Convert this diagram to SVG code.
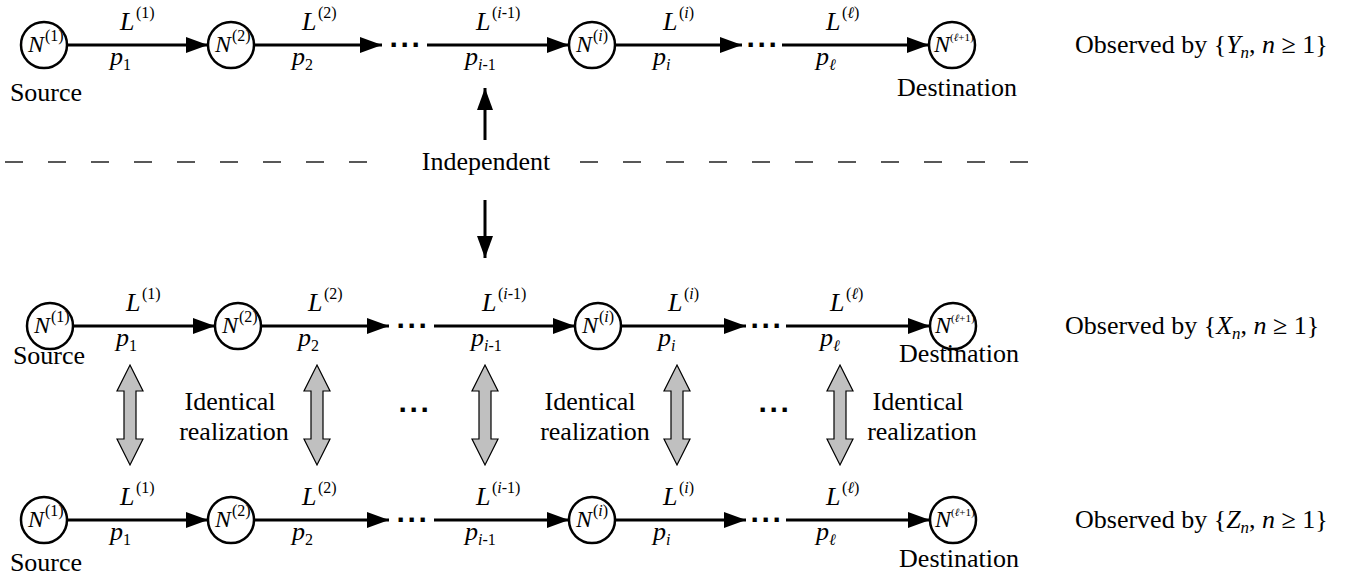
<svg xmlns="http://www.w3.org/2000/svg" width="1353" height="575" viewBox="0 0 1353 575">
<style>
.t{font-family:"Liberation Serif","Times New Roman",serif;font-size:26px;fill:#000}
.mi{font-family:"Liberation Serif","Times New Roman",serif;font-size:26px;font-style:italic;fill:#000}
.ni{font-family:"Liberation Serif","Times New Roman",serif;font-size:24px;font-style:italic;fill:#000}
.sm{font-family:"Liberation Serif","Times New Roman",serif;font-size:16px;fill:#000}
.tiny{font-family:"Liberation Serif","Times New Roman",serif;font-size:11px;fill:#000}
.it{font-style:italic}
.node{fill:#fff;stroke:#000;stroke-width:2.5}
.edge{stroke:#000;stroke-width:3;fill:none}
.dots{font-family:"Liberation Sans",Arial,sans-serif;font-size:30px;font-weight:bold;fill:#000;letter-spacing:1px}
.dash{stroke:#222;stroke-width:1.5;stroke-dasharray:18 25;fill:none}
.dbl{fill:#c0c0c0;stroke:#000;stroke-width:1.2}
</style>
<defs>
<marker id="ah" markerUnits="userSpaceOnUse" markerWidth="24" markerHeight="18" refX="22" refY="8" orient="auto">
<path d="M0,0 L22,8 L0,16 z" fill="#000"/>
</marker>
</defs>

<!-- Row 1 nodes -->
<g id="r1n1"><circle class="node" cx="44" cy="45" r="23"/><text class="ni" x="28" y="52">N</text><text class="sm" x="45" y="41">(1)</text><text class="t" x="46" y="101" text-anchor="middle">Source</text></g>
<g id="r1n2"><circle class="node" cx="231" cy="45" r="23"/><text class="ni" x="215" y="52">N</text><text class="sm" x="232" y="41">(2)</text></g>
<g id="r1ni"><circle class="node" cx="592" cy="45" r="23"/><text class="ni" x="576" y="52">N</text><text class="sm" x="593" y="41">(<tspan class="it">i</tspan>)</text></g>
<g id="r1nl"><circle class="node" cx="952" cy="45" r="23"/><text class="ni" x="934" y="52">N</text><text class="tiny" x="950" y="41">(<tspan class="it">ℓ</tspan>+1)</text><text class="t" x="957" y="96" text-anchor="middle">Destination</text></g>

<!-- Row 2 nodes -->
<g id="r2n1"><circle class="node" cx="50" cy="326" r="23"/><text class="ni" x="34" y="333">N</text><text class="sm" x="51" y="322">(1)</text><text class="t" x="49" y="364" text-anchor="middle">Source</text></g>
<g id="r2n2"><circle class="node" cx="238" cy="326" r="23"/><text class="ni" x="222" y="333">N</text><text class="sm" x="239" y="322">(2)</text></g>
<g id="r2ni"><circle class="node" cx="598" cy="326" r="23"/><text class="ni" x="582" y="333">N</text><text class="sm" x="599" y="322">(<tspan class="it">i</tspan>)</text></g>
<g id="r2nl"><circle class="node" cx="953" cy="326" r="23"/><text class="ni" x="935" y="333">N</text><text class="tiny" x="951" y="322">(<tspan class="it">ℓ</tspan>+1)</text><text class="t" x="959" y="362" text-anchor="middle">Destination</text></g>

<!-- Row 3 nodes -->
<g id="r3n1"><circle class="node" cx="44" cy="520" r="23"/><text class="ni" x="28" y="527">N</text><text class="sm" x="45" y="516">(1)</text><text class="t" x="46" y="571" text-anchor="middle">Source</text></g>
<g id="r3n2"><circle class="node" cx="231" cy="520" r="23"/><text class="ni" x="215" y="527">N</text><text class="sm" x="232" y="516">(2)</text></g>
<g id="r3ni"><circle class="node" cx="592" cy="520" r="23"/><text class="ni" x="576" y="527">N</text><text class="sm" x="593" y="516">(<tspan class="it">i</tspan>)</text></g>
<g id="r3nl"><circle class="node" cx="953" cy="520" r="23"/><text class="ni" x="935" y="527">N</text><text class="tiny" x="951" y="516">(<tspan class="it">ℓ</tspan>+1)</text><text class="t" x="959" y="567" text-anchor="middle">Destination</text></g>

<!-- Observed labels -->
<g id="obsY"><text class="t" x="1075" y="53">Observed by  {<tspan class="it">Y</tspan><tspan font-size="17" class="it" dy="5">n</tspan><tspan dy="-5">, </tspan><tspan class="it">n</tspan> ≥ 1}</text></g>
<g id="obsX"><text class="t" x="1065" y="334">Observed by  {<tspan class="it">X</tspan><tspan font-size="17" class="it" dy="5">n</tspan><tspan dy="-5">, </tspan><tspan class="it">n</tspan> ≥ 1}</text></g>
<g id="obsZ"><text class="t" x="1075" y="528">Observed by  {<tspan class="it">Z</tspan><tspan font-size="17" class="it" dy="5">n</tspan><tspan dy="-5">, </tspan><tspan class="it">n</tspan> ≥ 1}</text></g>

<!-- Independent -->
<g id="independent"><text class="t" x="486" y="170" text-anchor="middle">Independent</text></g>

<!-- Identical realization labels -->
<g id="ident1"><text class="t" x="230" y="410" text-anchor="middle">Identical</text><text class="t" x="234" y="440" text-anchor="middle">realization</text></g>
<g id="ident2"><text class="t" x="590" y="410" text-anchor="middle">Identical</text><text class="t" x="595" y="440" text-anchor="middle">realization</text></g>
<g id="ident3"><text class="t" x="918" y="410" text-anchor="middle">Identical</text><text class="t" x="922" y="440" text-anchor="middle">realization</text></g>
<g id="ell1"><text class="dots" x="415" y="420" text-anchor="middle">···</text></g>
<g id="ell2"><text class="dots" x="775" y="420" text-anchor="middle">···</text></g>

<g id="connectors">
<!-- Row 1 -->
<line class="edge" x1="67" y1="45" x2="208" y2="45" marker-end="url(#ah)"/>
<line class="edge" x1="254" y1="45" x2="382" y2="45" marker-end="url(#ah)"/>
<text class="dots" x="406" y="55" text-anchor="middle">···</text>
<line class="edge" x1="427" y1="45" x2="569" y2="45" marker-end="url(#ah)"/>
<line class="edge" x1="615" y1="45" x2="742" y2="45" marker-end="url(#ah)"/>
<text class="dots" x="763" y="55" text-anchor="middle">···</text>
<line class="edge" x1="782" y1="45" x2="929" y2="45" marker-end="url(#ah)"/>
<!-- Row 2 -->
<line class="edge" x1="73" y1="326" x2="215" y2="326" marker-end="url(#ah)"/>
<line class="edge" x1="261" y1="326" x2="389" y2="326" marker-end="url(#ah)"/>
<text class="dots" x="413" y="336" text-anchor="middle">···</text>
<line class="edge" x1="434" y1="326" x2="575" y2="326" marker-end="url(#ah)"/>
<line class="edge" x1="621" y1="326" x2="746" y2="326" marker-end="url(#ah)"/>
<text class="dots" x="767" y="336" text-anchor="middle">···</text>
<line class="edge" x1="786" y1="326" x2="930" y2="326" marker-end="url(#ah)"/>
<!-- Row 3 -->
<line class="edge" x1="67" y1="520" x2="208" y2="520" marker-end="url(#ah)"/>
<line class="edge" x1="254" y1="520" x2="389" y2="520" marker-end="url(#ah)"/>
<text class="dots" x="413" y="530" text-anchor="middle">···</text>
<line class="edge" x1="434" y1="520" x2="569" y2="520" marker-end="url(#ah)"/>
<line class="edge" x1="615" y1="520" x2="746" y2="520" marker-end="url(#ah)"/>
<text class="dots" x="767" y="530" text-anchor="middle">···</text>
<line class="edge" x1="786" y1="520" x2="930" y2="520" marker-end="url(#ah)"/>

<!-- Edge labels row 1 -->
<text class="mi" x="120" y="30">L</text><text class="sm" x="136" y="18">(1)</text>
<text class="mi" x="110" y="65">p</text><text class="sm" x="123" y="70">1</text>
<text class="mi" x="302" y="30">L</text><text class="sm" x="318" y="18">(2)</text>
<text class="mi" x="292" y="65">p</text><text class="sm" x="305" y="70">2</text>
<text class="mi" x="476" y="30">L</text><text class="sm" x="492" y="18">(<tspan class="it">i</tspan>-1)</text>
<text class="mi" x="465" y="65">p</text><text class="sm" x="478" y="70"><tspan class="it">i</tspan>-1</text>
<text class="mi" x="663" y="30">L</text><text class="sm" x="679" y="18">(<tspan class="it">i</tspan>)</text>
<text class="mi" x="653" y="65">p</text><text class="sm" x="666" y="70" font-style="italic">i</text>
<text class="mi" x="826" y="30">L</text><text class="sm" x="842" y="18">(<tspan class="it">ℓ</tspan>)</text>
<text class="mi" x="816" y="65">p</text><text class="sm" x="829" y="70" font-style="italic">ℓ</text>
<!-- Edge labels row 2 -->
<text class="mi" x="126" y="311">L</text><text class="sm" x="142" y="299">(1)</text>
<text class="mi" x="116" y="346">p</text><text class="sm" x="129" y="351">1</text>
<text class="mi" x="308" y="311">L</text><text class="sm" x="324" y="299">(2)</text>
<text class="mi" x="298" y="346">p</text><text class="sm" x="311" y="351">2</text>
<text class="mi" x="482" y="311">L</text><text class="sm" x="498" y="299">(<tspan class="it">i</tspan>-1)</text>
<text class="mi" x="471" y="346">p</text><text class="sm" x="484" y="351"><tspan class="it">i</tspan>-1</text>
<text class="mi" x="668" y="311">L</text><text class="sm" x="684" y="299">(<tspan class="it">i</tspan>)</text>
<text class="mi" x="658" y="346">p</text><text class="sm" x="671" y="351" font-style="italic">i</text>
<text class="mi" x="830" y="311">L</text><text class="sm" x="846" y="299">(<tspan class="it">ℓ</tspan>)</text>
<text class="mi" x="820" y="346">p</text><text class="sm" x="833" y="351" font-style="italic">ℓ</text>
<!-- Edge labels row 3 -->
<text class="mi" x="120" y="505">L</text><text class="sm" x="136" y="493">(1)</text>
<text class="mi" x="110" y="540">p</text><text class="sm" x="123" y="545">1</text>
<text class="mi" x="302" y="505">L</text><text class="sm" x="318" y="493">(2)</text>
<text class="mi" x="292" y="540">p</text><text class="sm" x="305" y="545">2</text>
<text class="mi" x="476" y="505">L</text><text class="sm" x="492" y="493">(<tspan class="it">i</tspan>-1)</text>
<text class="mi" x="465" y="540">p</text><text class="sm" x="478" y="545"><tspan class="it">i</tspan>-1</text>
<text class="mi" x="663" y="505">L</text><text class="sm" x="679" y="493">(<tspan class="it">i</tspan>)</text>
<text class="mi" x="653" y="540">p</text><text class="sm" x="666" y="545" font-style="italic">i</text>
<text class="mi" x="826" y="505">L</text><text class="sm" x="842" y="493">(<tspan class="it">ℓ</tspan>)</text>
<text class="mi" x="816" y="540">p</text><text class="sm" x="829" y="545" font-style="italic">ℓ</text>

<!-- Dashed separator -->
<line class="dash" x1="5" y1="162" x2="372" y2="162"/>
<line class="dash" x1="580" y1="162" x2="1030" y2="162"/>
<!-- Independent arrows -->
<line class="edge" x1="485" y1="140" x2="485" y2="88" marker-end="url(#ah)"/>
<line class="edge" x1="485" y1="200" x2="485" y2="258" marker-end="url(#ah)"/>

<!-- Gray double arrows -->
<path class="dbl" d="M130,365 L143,391 L136,391 L136,439 L143,439 L130,465 L117,439 L124,439 L124,391 L117,391 Z"/>
<path class="dbl" d="M317,365 L330,391 L323,391 L323,439 L330,439 L317,465 L304,439 L311,439 L311,391 L304,391 Z"/>
<path class="dbl" d="M485,365 L498,391 L491,391 L491,439 L498,439 L485,465 L472,439 L479,439 L479,391 L472,391 Z"/>
<path class="dbl" d="M677,365 L690,391 L683,391 L683,439 L690,439 L677,465 L664,439 L671,439 L671,391 L664,391 Z"/>
<path class="dbl" d="M840,365 L853,391 L846,391 L846,439 L853,439 L840,465 L827,439 L834,439 L834,391 L827,391 Z"/>
</g>
</svg>
